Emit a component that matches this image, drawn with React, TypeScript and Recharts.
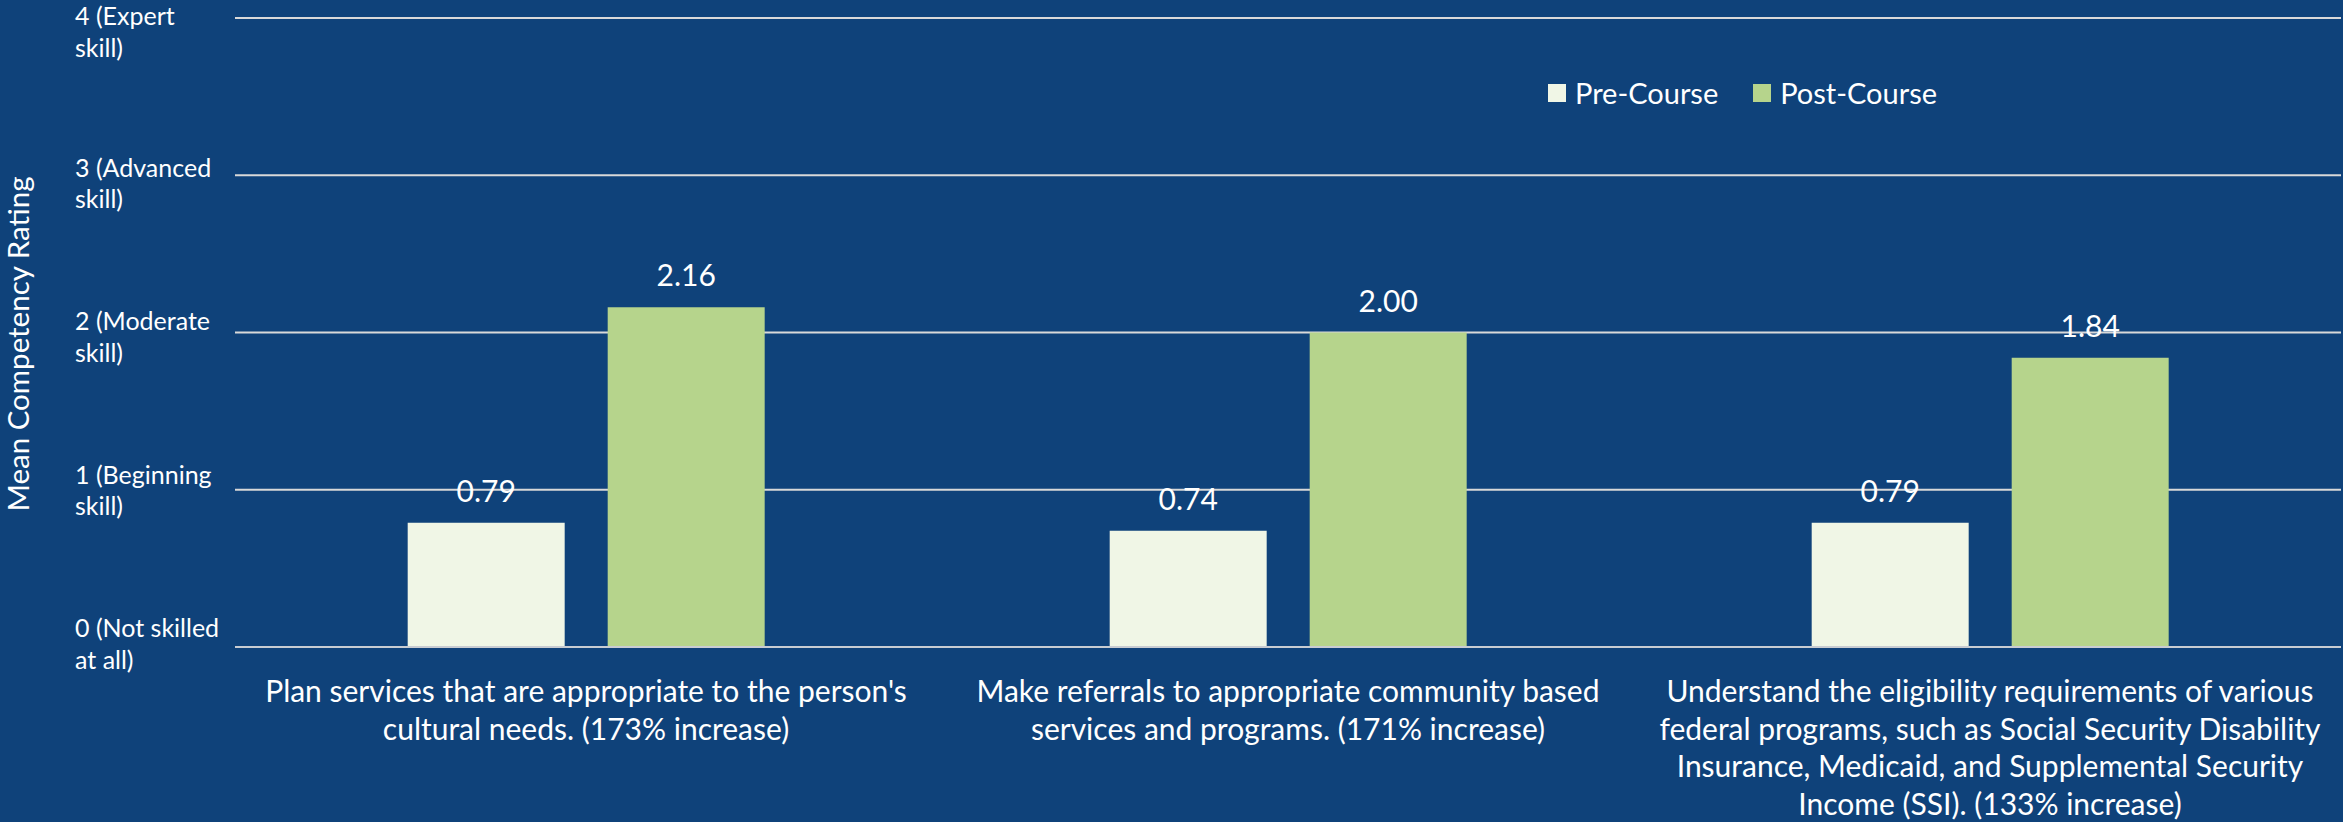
import React from 'react';
import { BarChart, Bar, XAxis, YAxis, CartesianGrid, Legend, LabelList, Label } from 'recharts';

const categories = ['cultural', 'referrals', 'eligibility'];

const categoryLines = [
  ["Plan services that are appropriate to the person's", 'cultural needs. (173% increase)'],
  ['Make referrals to appropriate community based', 'services and programs. (171% increase)'],
  [
    'Understand the eligibility requirements of various',
    'federal programs, such as Social Security Disability',
    'Insurance, Medicaid, and Supplemental Security',
    'Income (SSI). (133% increase)',
  ],
];

const preCourse = [0.79, 0.74, 0.79];
const postCourse = [2.16, 2.0, 1.84];

const yTicks = [0, 1, 2, 3, 4];
const yTickLines = [
  ['0 (Not skilled', 'at all)'],
  ['1 (Beginning', 'skill)'],
  ['2 (Moderate', 'skill)'],
  ['3 (Advanced', 'skill)'],
  ['4 (Expert', 'skill)'],
];

const seriesOrder = ['pre', 'post'];

const BG = '#0F427A';
const PRE = '#F0F6E6';
const POST = '#B6D48C';
const FONT = 'Lato, "Open Sans", sans-serif';

const data = categories.map((c, i) => ({
  name: c,
  pre: preCourse[i],
  post: postCourse[i],
}));

const XTick = (props: any) => {
  const { x, y, index } = props;
  const lines = categoryLines[index] || [];
  return (
    <g>
      {lines.map((l, i) => (
        <text
          key={i}
          x={x}
          y={y + 43 + i * 37.6}
          textAnchor="middle"
          dominantBaseline="central"
          fill="#FFFFFF"
          fontSize={30}
          fontFamily={FONT}
        >
          {l}
        </text>
      ))}
    </g>
  );
};

const YTick = (props: any) => {
  const { y, payload } = props;
  const idx = yTicks.indexOf(payload.value);
  const lines = yTickLines[idx] || [];
  // excel spreads the two-line labels a little tighter than the gridlines
  const c = Math.max(31, 29 + 0.976 * (y - 18));
  return (
    <g>
      {lines.map((l, i) => (
        <text
          key={i}
          x={75}
          y={c - 15.75 + i * 31.5}
          textAnchor="start"
          dominantBaseline="central"
          fill="#FFFFFF"
          fontSize={25}
          fontFamily={FONT}
        >
          {l}
        </text>
      ))}
    </g>
  );
};

const LegendContent = (props: any) => {
  const items = [...(props.payload || [])].sort(
    (a: any, b: any) => seriesOrder.indexOf(a.dataKey) - seriesOrder.indexOf(b.dataKey)
  );
  return (
    <div style={{ display: 'flex', alignItems: 'center', fontFamily: FONT }}>
      {items.map((p: any, i: number) => (
        <div key={i} style={{ display: 'flex', alignItems: 'center', marginRight: i === 0 ? 35 : 0 }}>
          <div style={{ width: 18, height: 18, background: p.color, marginRight: 9 }} />
          <span style={{ color: '#FFFFFF', fontSize: 29, lineHeight: '36px' }}>{p.value}</span>
        </div>
      ))}
    </div>
  );
};

const App = () => {
  return (
    <div style={{ position: 'absolute', left: 0, top: 0, width: 2343, height: 822, background: BG }}>
      <BarChart
        width={2343}
        height={822}
        data={data}
        margin={{ top: 18, right: 2, left: 0, bottom: 0 }}
        barCategoryGap="24.6%"
        barGap={43}
      >
        <CartesianGrid vertical={false} stroke="#D9D9D9" strokeWidth={2} />
        <XAxis
          dataKey="name"
          height={175}
          tickSize={0}
          tickMargin={0}
          tickLine={false}
          axisLine={{ stroke: '#C8CCD2', strokeWidth: 2 }}
          tick={<XTick />}
          interval={0}
        />
        <YAxis
          width={235}
          domain={[0, 4]}
          ticks={yTicks}
          tickLine={false}
          axisLine={false}
          tick={<YTick />}
        >
          <Label
            content={() => (
              <text
                x={17}
                y={344}
                transform="rotate(-90 17 344)"
                textAnchor="middle"
                dominantBaseline="central"
                fill="#FFFFFF"
                fontSize={29.5}
                fontFamily={FONT}
              >
                Mean Competency Rating
              </text>
            )}
          />
        </YAxis>
        <Legend
          layout="horizontal"
          verticalAlign="middle"
          align="center"
          content={<LegendContent />}
          wrapperStyle={{ top: 75, left: 1548, width: 'auto' }}
        />
        <Bar dataKey="pre" name="Pre-Course" fill={PRE} isAnimationActive={false}>
          <LabelList
            dataKey="pre"
            position="top"
            offset={21}
            fill="#FFFFFF"
            fontSize={30}
            fontFamily={FONT}
            formatter={(v: any) => Number(v).toFixed(2)}
          />
        </Bar>
        <Bar dataKey="post" name="Post-Course" fill={POST} isAnimationActive={false}>
          <LabelList
            dataKey="post"
            position="top"
            offset={21}
            fill="#FFFFFF"
            fontSize={30}
            fontFamily={FONT}
            formatter={(v: any) => Number(v).toFixed(2)}
          />
        </Bar>
      </BarChart>
    </div>
  );
};

export default App;
